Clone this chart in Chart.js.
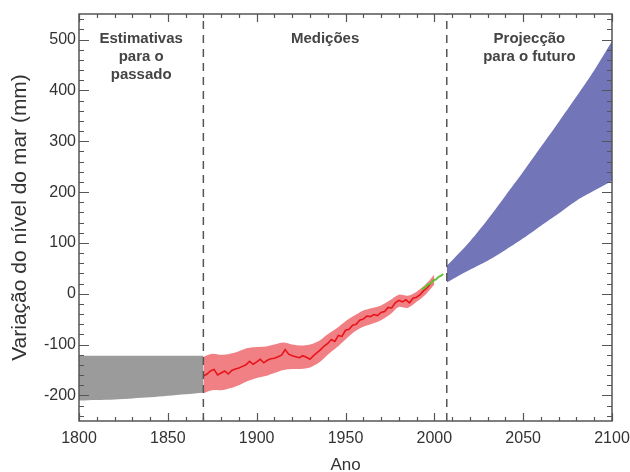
<!DOCTYPE html>
<html>
<head>
<meta charset="utf-8">
<script src="https://cdn.jsdelivr.net/npm/chart.js@4.4.1/dist/chart.umd.min.js"></script>
<style>
  html, body { margin: 0; padding: 0; background: #fff; }
  #wrap { width: 630px; height: 472px; }
</style>
</head>
<body>
<div id="wrap"><canvas id="seaLevel" width="630" height="472"></canvas></div>
<script>
// periods (edges in years) and their captions
const periodEdges = [1800, 1870, 2007, 2100];
const periodNames = [["Estimativas", "para o", "passado"], ["Medições"], ["Projecção", "para o futuro"]];

// past estimates, grey band
const pastYears = [1800, 1810, 1820, 1830, 1840, 1850, 1860, 1870];
const pastHigh = [-122, -122, -122, -122, -122, -122, -122, -122];
const pastLow = [-210, -209, -208, -206, -204, -201, -198, -195];

// tide gauge reconstruction, red line
const gaugeYears = [1870, 1872, 1874, 1876, 1878, 1880, 1882, 1884, 1886, 1888,
  1890, 1892, 1894, 1896, 1898, 1900, 1902, 1904, 1906, 1908,
  1910, 1912, 1914, 1916, 1918, 1920, 1922, 1924, 1926, 1928,
  1930, 1932, 1934, 1936, 1938, 1940, 1942, 1944, 1946, 1948,
  1950, 1952, 1954, 1956, 1958, 1960, 1962, 1964, 1966, 1968,
  1970, 1972, 1974, 1976, 1978, 1980, 1982, 1984, 1986, 1988,
  1990, 1992, 1994, 1996, 1998, 2000];
const gaugeLevel = [-162, -158, -152, -149, -160, -156, -152, -158, -151, -148,
  -146, -143, -140, -133, -139, -134, -129, -136, -131, -128,
  -127, -124, -121, -110, -119, -122, -124, -126, -122, -125,
  -129, -122, -116, -110, -103, -98, -90, -94, -82, -84,
  -72, -70, -62, -60, -52, -50, -44, -45, -41, -43,
  -37, -35, -27, -28, -18, -13, -16, -12, -18, -9,
  -7, -2, 6, 12, 20, 28];

// uncertainty of the tide gauge record, pink band
const gaugeBandYears = [1870, 1875, 1880, 1885, 1890, 1895, 1900, 1905, 1910, 1915,
  1920, 1925, 1930, 1935, 1940, 1945, 1950, 1955, 1960, 1965,
  1970, 1975, 1980, 1985, 1990, 1995, 2000];
const gaugeHigh = [-124, -118, -120, -118, -113, -107, -105, -104, -100, -96,
  -100, -102, -100, -93, -80, -68, -54, -43, -33, -28,
  -23, -13, -2, -4, 4, 18, 38];
const gaugeLow = [-196, -190, -190, -186, -180, -172, -166, -162, -156, -150,
  -148, -148, -145, -136, -120, -106, -90, -75, -65, -59,
  -52, -41, -26, -28, -16, -2, 18];

// satellite altimetry, green line
const satYears = [1993, 1994, 1995, 1996, 1997, 1998, 1999, 2000, 2001, 2002, 2003, 2004, 2005];
const satLevel = [8, 11, 13, 17, 19, 20, 24, 27, 28, 32, 34, 36, 39];

// projections, blue band
const projYears = [2007, 2020, 2030, 2040, 2050, 2060, 2070, 2080, 2090, 2100];
const projHigh = [55, 103, 146, 193, 240, 289, 338, 388, 440, 497];
const projLow = [22, 47, 65, 86, 109, 134, 158, 183, 203, 222];

const yMin = -250.5, yMax = 550.5;

const pts = (xs, ys) => xs.map((x, i) => ({ x: x, y: ys[i] }));

function band(xs, lo, hi, color, tension) {
  return [
    { data: pts(xs, lo), borderWidth: 0, pointRadius: 0, fill: false, tension: tension, order: 3 },
    { data: pts(xs, hi), borderWidth: 0, pointRadius: 0, fill: '-1', backgroundColor: color, tension: tension, order: 3 }
  ];
}

function divider(year) {
  return {
    data: [{ x: year, y: yMin }, { x: year, y: yMax }],
    borderColor: '#555', borderWidth: 1.5, borderDash: [8, 6], pointRadius: 0, fill: false, order: 0
  };
}

Chart.defaults.font.family = "'Liberation Sans', Arial, sans-serif";

const frame = {
  id: 'frame',
  afterDatasetsDraw(chart) {
    const { ctx, chartArea: a, scales: { x, y } } = chart;
    ctx.save();
    ctx.strokeStyle = '#555';
    ctx.lineWidth = 1.2;
    ctx.beginPath();
    x.ticks.forEach(t => {
      const px = Math.round(x.getPixelForValue(t.value)) + 0.5;
      const len = t.value % 50 === 0 ? 8 : 4;
      ctx.moveTo(px, a.bottom); ctx.lineTo(px, a.bottom - len);
      ctx.moveTo(px, a.top); ctx.lineTo(px, a.top + len);
    });
    y.ticks.forEach(t => {
      const py = Math.round(y.getPixelForValue(t.value)) + 0.5;
      const len = t.value % 100 === 0 ? 10 : 5;
      ctx.moveTo(a.left, py); ctx.lineTo(a.left + len, py);
      ctx.moveTo(a.right, py); ctx.lineTo(a.right - len, py);
    });
    ctx.stroke();
    ctx.lineWidth = 1.5;
    ctx.strokeRect(a.left, a.top, a.right - a.left, a.bottom - a.top);

    ctx.fillStyle = '#444';
    ctx.font = "bold 15px 'Liberation Sans', Arial, sans-serif";
    ctx.textAlign = 'center';
    ctx.textBaseline = 'middle';
    periodNames.forEach((lines, i) => {
      const cx = x.getPixelForValue((periodEdges[i] + periodEdges[i + 1]) / 2);
      lines.forEach((s, k) => ctx.fillText(s, cx, a.top + 25 + k * 18));
    });
    ctx.restore();
  }
};

new Chart(document.getElementById('seaLevel'), {
  type: 'line',
  data: {
    datasets: [
      ...band(pastYears, pastLow, pastHigh, '#9b9b9b', 0.3),
      ...band(gaugeBandYears, gaugeLow, gaugeHigh, '#f18084', 0.3),
      ...band(projYears, projLow, projHigh, '#7276b8', 0.4),
      { data: pts(gaugeYears, gaugeLevel), borderColor: '#e8141c', borderWidth: 1.6, pointRadius: 0, fill: false, order: 2 },
      { data: pts(satYears, satLevel), borderColor: '#62c23a', borderWidth: 2, pointRadius: 0, fill: false, order: 1 },
      divider(periodEdges[1]),
      divider(periodEdges[2])
    ]
  },
  options: {
    responsive: false,
    animation: false,
    layout: { padding: { left: 0, right: 18, top: 14, bottom: 0 } },
    plugins: { legend: { display: false }, tooltip: { enabled: false } },
    scales: {
      x: {
        type: 'linear', min: 1800, max: 2100,
        afterFit(s) { s.height = 51; s.paddingLeft = 0; s.paddingRight = 0; },
        grid: { display: false, drawTicks: false },
        border: { display: false },
        ticks: {
          stepSize: 10, autoSkip: false, maxRotation: 0, padding: 8,
          color: '#333', font: { size: 16 },
          callback: v => v % 50 === 0 ? String(v) : ''
        },
        title: { display: true, text: 'Ano', color: '#333', font: { size: 17 }, padding: { top: 0, bottom: -4 } }
      },
      y: {
        type: 'linear', min: yMin, max: yMax,
        afterFit(s) { s.width = 79; s.paddingTop = 0; s.paddingBottom = 0; },
        grid: { display: false, drawTicks: false },
        border: { display: false },
        ticks: {
          stepSize: 20, autoSkip: false, includeBounds: false, padding: 3,
          color: '#333', font: { size: 16 },
          callback: v => v % 100 === 0 ? String(v) : ''
        },
        title: { display: true, text: 'Variação do nível do mar (mm)', color: '#333', font: { size: 21 }, padding: { top: 8, bottom: 0 } }
      }
    }
  },
  plugins: [frame]
});
</script>
</body>
</html>
